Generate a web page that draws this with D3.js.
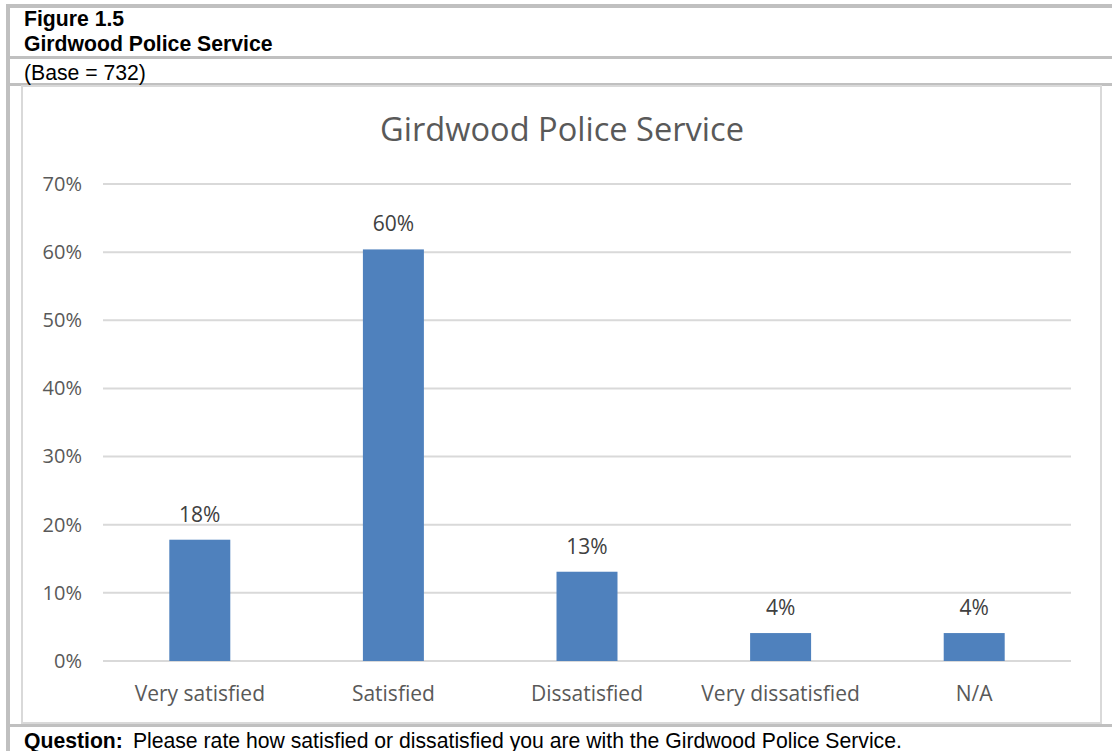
<!DOCTYPE html>
<html><head><meta charset="utf-8">
<script src="https://cdn.jsdelivr.net/npm/d3@7"></script>
<style>
html,body{margin:0;padding:0;background:#fff;}
svg{display:block;}
</style></head>
<body>
<svg id="c" width="1112" height="751"></svg>
<script>
const categories = ["Very satisfied","Satisfied","Dissatisfied","Very dissatisfied","N/A"];
const values = [17.8, 60.4, 13.1, 4.1, 4.1];
const valueLabels = ["18%","60%","13%","4%","4%"];
const yTicks = [0,10,20,30,40,50,60,70];
const figureLabel = "Figure 1.5";
const figureTitle = "Girdwood Police Service";
const baseText = "(Base = 732)";
const chartTitle = "Girdwood Police Service";
const questionLabel = "Question:";
const questionText = "Please rate how satisfied or dissatisfied you are with the Girdwood Police Service.";

const svg = d3.select("#c");
const W = 1112, H = 751;
const frame = "#c0c0c0";
const chartFont = "'Open Sans', Lato, sans-serif";
const headFont = "'Liberation Sans', Arial, sans-serif";

// outer table frame
svg.append("rect").attr("x",6).attr("y",4).attr("width",W).attr("height",4).attr("fill",frame);
svg.append("rect").attr("x",6).attr("y",4).attr("width",4).attr("height",H).attr("fill",frame);
svg.append("rect").attr("x",10).attr("y",56).attr("width",W).attr("height",3).attr("fill",frame);
svg.append("rect").attr("x",10).attr("y",83).attr("width",W).attr("height",3).attr("fill",frame);
svg.append("rect").attr("x",10).attr("y",724).attr("width",W).attr("height",3).attr("fill",frame);

// chart box
svg.append("rect").attr("x",22).attr("y",86).attr("width",1079).attr("height",637)
  .attr("fill","#fff").attr("stroke","#d9d9d9").attr("stroke-width",2);

// header texts
const hs = 21.2;
svg.append("text").attr("x",24).attr("y",26).attr("font-family",headFont).attr("font-weight","bold")
  .attr("font-size",hs).attr("fill","#000").text(figureLabel);
svg.append("text").attr("x",24).attr("y",51).attr("font-family",headFont).attr("font-weight","bold")
  .attr("font-size",hs).attr("fill","#000").text(figureTitle);
svg.append("text").attr("x",24).attr("y",80).attr("font-family",headFont)
  .attr("font-size",hs).attr("fill","#000").text(baseText);
const q = svg.append("text").attr("x",24).attr("y",748).attr("font-family",headFont)
  .attr("font-size",hs).attr("fill","#000");
q.append("tspan").attr("font-weight","bold").text(questionLabel);
q.append("tspan").attr("dx",10).text(questionText);

// plot
const x = d3.scaleBand().domain(categories).range([103,1071]).paddingInner(0.685).paddingOuter(0.3425);
const y = d3.scaleLinear().domain([0,70]).range([661,184]);

svg.append("text").attr("x",562).attr("y",141).attr("text-anchor","middle")
  .attr("font-family",chartFont).attr("font-size",32.6).attr("fill","#595959").text(chartTitle);

const g = svg.append("g");
g.selectAll("line.grid").data(yTicks).join("line").attr("class","grid")
  .attr("x1",103).attr("x2",1071).attr("y1",d=>y(d)).attr("y2",d=>y(d))
  .attr("stroke","#d9d9d9").attr("stroke-width",2);

const yAxis = d3.axisLeft(y).tickValues(yTicks).tickFormat(d=>d+"%").tickSize(0).tickPadding(0);
const ya = svg.append("g").attr("transform","translate(82,0)").call(yAxis);
ya.select(".domain").remove();
ya.selectAll("text").attr("font-family",chartFont).attr("font-size",20).attr("fill","#595959");

g.selectAll("rect.bar").data(values).join("rect").attr("class","bar")
  .attr("x",(d,i)=>x(categories[i])).attr("width",x.bandwidth())
  .attr("y",d=>y(d)).attr("height",d=>y(0)-y(d)).attr("fill","#4f81bd");

g.selectAll("text.lbl").data(values).join("text").attr("class","lbl")
  .attr("x",(d,i)=>x(categories[i])+x.bandwidth()/2).attr("y",d=>y(d)-18)
  .attr("text-anchor","middle").attr("font-family",chartFont).attr("font-size",21).attr("fill","#404040")
  .text((d,i)=>valueLabels[i]);

const xAxis = d3.axisBottom(x).tickSize(0).tickPadding(0);
const xa = svg.append("g").attr("transform","translate(0,686)").call(xAxis);
xa.select(".domain").remove();
xa.selectAll("text").attr("font-family",chartFont).attr("font-size",21).attr("fill","#595959");
</script>
</body></html>
